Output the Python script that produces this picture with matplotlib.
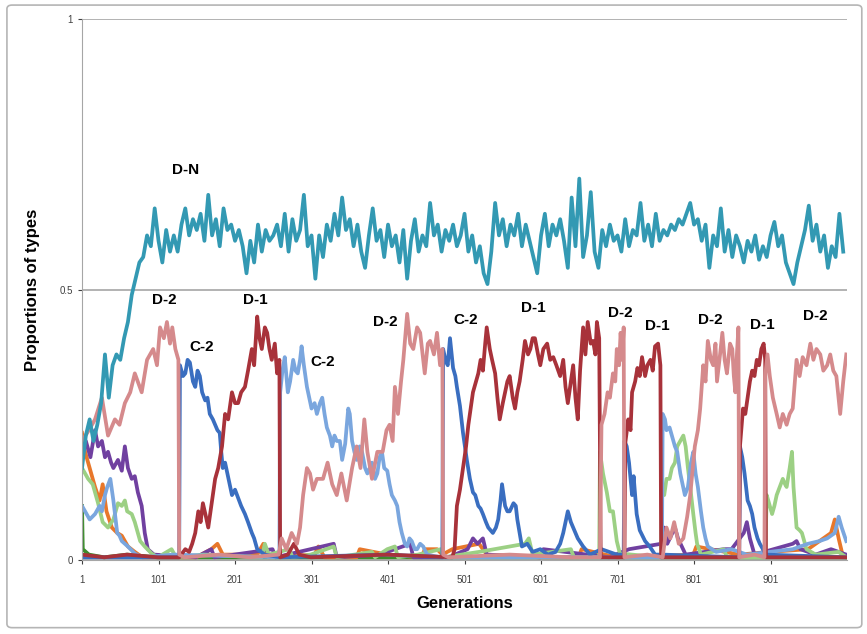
import matplotlib
matplotlib.use("Agg")
import matplotlib.pyplot as plt
from matplotlib.patches import FancyBboxPatch
import numpy as np

plt.rcParams['font.family'] = ['Liberation Sans', 'DejaVu Sans']

# D-N, sampled every 5 generations
dn_gen = np.arange(1, 1000, 5)
dn_val = [0.17, 0.23, 0.26, 0.22, 0.25, 0.29, 0.38, 0.30, 0.36, 0.38,
          0.37, 0.41, 0.44, 0.49, 0.52, 0.55, 0.56, 0.60, 0.58, 0.65,
          0.59, 0.55, 0.61, 0.57, 0.60, 0.57, 0.62, 0.65, 0.60, 0.63,
          0.61, 0.64, 0.59, 0.675, 0.60, 0.63, 0.58, 0.65, 0.61, 0.62,
          0.59, 0.61, 0.58, 0.53, 0.59, 0.55, 0.62, 0.57, 0.61, 0.59,
          0.60, 0.62, 0.58, 0.64, 0.57, 0.63, 0.59, 0.61, 0.675, 0.58,
          0.60, 0.52, 0.60, 0.56, 0.62, 0.59, 0.64, 0.60, 0.67, 0.61,
          0.63, 0.58, 0.62, 0.57, 0.54, 0.60, 0.65, 0.59, 0.61, 0.56,
          0.62, 0.58, 0.60, 0.55, 0.61, 0.52, 0.59, 0.63, 0.57, 0.60,
          0.58, 0.66, 0.60, 0.62, 0.57, 0.61, 0.59, 0.62, 0.58, 0.60,
          0.64, 0.57, 0.60, 0.55, 0.58, 0.53, 0.51, 0.57, 0.66, 0.60,
          0.63, 0.58, 0.62, 0.60, 0.64, 0.58, 0.62, 0.59, 0.56, 0.53,
          0.60, 0.64, 0.58, 0.62, 0.60, 0.63, 0.59, 0.54, 0.67, 0.58,
          0.705, 0.56, 0.60, 0.68, 0.57, 0.54, 0.61, 0.58, 0.62, 0.59,
          0.60, 0.57, 0.63, 0.58, 0.61, 0.60, 0.66, 0.59, 0.62, 0.58,
          0.64, 0.59, 0.61, 0.60, 0.62, 0.61, 0.63, 0.62, 0.64, 0.66,
          0.62, 0.63, 0.59, 0.62, 0.54, 0.60, 0.58, 0.65, 0.57, 0.61,
          0.56, 0.60, 0.58, 0.55, 0.59, 0.57, 0.60, 0.555, 0.58, 0.56,
          0.60, 0.625, 0.58, 0.60, 0.55, 0.53, 0.51, 0.55, 0.58, 0.61,
          0.655, 0.59, 0.62, 0.57, 0.60, 0.54, 0.58, 0.56, 0.64, 0.57]

d2_gen = [1, 10, 18, 27, 35, 44, 50, 57, 64, 70, 79, 86, 94, 99, 103, 108, 112, 116, 119, 123, 127,
          128, 135, 180, 220, 258, 262, 268, 275, 282, 286, 290, 295, 299, 303, 308, 316, 322, 328,
          334, 340, 347, 354, 360, 365, 370, 374, 380, 387, 394, 399, 403, 407, 410, 414, 418, 421,
          426, 430, 434, 439, 443, 447, 449, 453, 456, 461, 465, 469, 472, 473, 480, 560, 640, 678,
          680, 684, 688, 691, 695, 698, 700, 703, 705, 707, 709, 710, 740, 760, 765, 770, 775, 781,
          787, 792, 796, 802, 806, 809, 813, 816, 819, 823, 826, 829, 831, 835, 838, 841, 844, 848,
          851, 853, 855, 857, 859, 860, 880, 893, 894, 897, 900, 904, 909, 913, 917, 922, 926, 930,
          935, 939, 943, 948, 953, 957, 961, 966, 970, 975, 979, 983, 987, 992, 996, 1000]
d2_val = [0.22, 0.24, 0.26, 0.30, 0.23, 0.26, 0.25, 0.29, 0.31, 0.345, 0.31, 0.37, 0.39, 0.36, 0.43,
          0.41, 0.44, 0.40, 0.43, 0.39, 0.37,
          0.01, 0.005, 0.01, 0.005, 0.01, 0.04, 0.02, 0.05, 0.03, 0.06, 0.12, 0.17, 0.16, 0.13, 0.15,
          0.15, 0.18, 0.14, 0.12, 0.16, 0.11, 0.17, 0.21, 0.17, 0.26, 0.20, 0.15, 0.20, 0.20, 0.24,
          0.25, 0.22, 0.32, 0.27, 0.33, 0.37, 0.455, 0.40, 0.39, 0.43, 0.42, 0.37, 0.345, 0.40,
          0.405, 0.38, 0.42, 0.36, 0.39, 0.01, 0.005, 0.01, 0.005, 0.005,
          0.25, 0.27, 0.31, 0.30, 0.345, 0.33, 0.39, 0.36, 0.42, 0.37, 0.43, 0.005, 0.01, 0.005,
          0.06, 0.04, 0.07, 0.03, 0.04, 0.08, 0.12, 0.21, 0.24, 0.28, 0.36, 0.33, 0.405, 0.37, 0.36,
          0.40, 0.33, 0.38, 0.42, 0.37, 0.345, 0.40, 0.39, 0.34, 0.31, 0.38, 0.43, 0.005, 0.01,
          0.005, 0.34, 0.38, 0.34, 0.30, 0.27, 0.245, 0.27, 0.25, 0.27, 0.28, 0.37, 0.34, 0.375,
          0.36, 0.40, 0.37, 0.39, 0.38, 0.35, 0.36, 0.38, 0.35, 0.34, 0.27, 0.33, 0.38]

d1_gen = [1, 30, 60, 100, 128, 136, 141, 145, 149, 153, 156, 159, 163, 166, 170, 175, 179, 184, 188,
          192, 197, 201, 205, 209, 214, 218, 223, 226, 230, 233, 236, 240, 243, 246, 249, 253, 256,
          259, 260, 270, 278, 285, 300, 400, 485, 488, 491, 495, 499, 503, 506, 509, 512, 516, 519,
          522, 525, 528, 530, 534, 537, 541, 544, 547, 551, 554, 557, 560, 564, 567, 570, 573, 577,
          580, 584, 587, 590, 593, 597, 600, 604, 609, 613, 617, 621, 626, 630, 633, 636, 640, 643,
          646, 649, 652, 656, 659, 662, 666, 669, 672, 674, 677, 679, 700, 710, 711, 715, 718, 720,
          724, 727, 730, 733, 737, 740, 744, 747, 750, 754, 757, 758, 780, 820, 860, 861, 865, 868,
          871, 874, 877, 880, 883, 886, 889, 892, 894, 895, 950, 1000]
d1_val = [0.01, 0.005, 0.01, 0.005, 0.005, 0.02, 0.015, 0.03, 0.05, 0.09, 0.07, 0.105, 0.08, 0.06,
          0.10, 0.15, 0.17, 0.21, 0.27, 0.26, 0.31, 0.29, 0.29, 0.31, 0.32, 0.35, 0.39, 0.36, 0.45,
          0.41, 0.39, 0.43, 0.42, 0.39, 0.37, 0.40, 0.345, 0.37, 0.005, 0.01, 0.03, 0.01, 0.005,
          0.01, 0.005, 0.02, 0.10, 0.13, 0.17, 0.21, 0.25, 0.28, 0.31, 0.33, 0.345, 0.37, 0.35,
          0.40, 0.43, 0.39, 0.37, 0.345, 0.30, 0.26, 0.29, 0.31, 0.33, 0.34, 0.30, 0.28, 0.31, 0.33,
          0.37, 0.405, 0.38, 0.39, 0.41, 0.41, 0.38, 0.36, 0.39, 0.40, 0.37, 0.375, 0.36, 0.34,
          0.37, 0.32, 0.29, 0.33, 0.36, 0.30, 0.26, 0.35, 0.43, 0.38, 0.44, 0.40, 0.405, 0.38, 0.44,
          0.41, 0.005, 0.005, 0.005, 0.215, 0.26, 0.24, 0.31, 0.33, 0.355, 0.34, 0.375, 0.34, 0.36,
          0.37, 0.35, 0.395, 0.40, 0.36, 0.005, 0.005, 0.005, 0.005, 0.21, 0.28, 0.27, 0.30, 0.33,
          0.35, 0.34, 0.37, 0.36, 0.39, 0.40, 0.37, 0.005, 0.005, 0.005]

c2_gen = [1, 128, 129, 133, 136, 139, 142, 146, 149, 152, 155, 158, 162, 165, 168, 172, 175, 178,
          181, 183, 185, 188, 191, 194, 197, 201, 205, 209, 214, 218, 223, 226, 230, 240, 260, 400,
          472, 473, 476, 479, 482, 486, 489, 491, 495, 499, 504, 508, 512, 515, 519, 522, 525, 529,
          532, 538, 542, 545, 548, 550, 554, 557, 560, 565, 568, 570, 573, 576, 583, 590, 600, 610,
          620, 626, 630, 633, 636, 640, 643, 649, 656, 665, 680, 690, 700, 709, 710, 713, 716, 718,
          720, 722, 726, 730, 737, 743, 750, 760, 860, 861, 864, 867, 871, 874, 877, 880, 884, 887,
          895, 1000]
c2_val = [0.005, 0.005, 0.36, 0.34, 0.345, 0.37, 0.365, 0.33, 0.32, 0.35, 0.34, 0.31, 0.295, 0.30,
          0.27, 0.26, 0.25, 0.24, 0.235, 0.20, 0.17, 0.18, 0.16, 0.14, 0.12, 0.13, 0.115, 0.10,
          0.085, 0.07, 0.05, 0.04, 0.02, 0.01, 0.005, 0.01,
          0.005, 0.39, 0.37, 0.36, 0.41, 0.355, 0.34, 0.32, 0.285, 0.235, 0.185, 0.15, 0.125, 0.12,
          0.10, 0.095, 0.085, 0.07, 0.06, 0.05, 0.06, 0.075, 0.11, 0.14, 0.10, 0.09, 0.09, 0.105,
          0.10, 0.075, 0.05, 0.025, 0.03, 0.015, 0.02, 0.01, 0.015, 0.03, 0.05, 0.07, 0.09, 0.07,
          0.06, 0.04, 0.025, 0.01, 0.02, 0.015, 0.01, 0.01, 0.22, 0.21, 0.18, 0.15, 0.12, 0.155,
          0.085, 0.055, 0.035, 0.025, 0.01, 0.01, 0.005, 0.21, 0.19, 0.16, 0.11, 0.10, 0.085, 0.06,
          0.04, 0.03, 0.01, 0.005]

lb_gen = [1, 5, 11, 18, 24, 27, 31, 34, 38, 42, 47, 50, 53, 61, 70, 80, 120, 259, 260, 263, 266,
          270, 273, 277, 280, 283, 286, 288, 291, 295, 298, 301, 305, 308, 312, 315, 318, 321, 325,
          328, 331, 334, 338, 341, 345, 349, 351, 354, 357, 360, 364, 367, 371, 374, 377, 380, 384,
          387, 390, 393, 396, 400, 403, 406, 410, 413, 416, 419, 423, 426, 429, 432, 436, 439, 443,
          447, 452, 470, 759, 760, 763, 765, 769, 772, 776, 779, 783, 786, 789, 793, 797, 800, 803,
          806, 810, 813, 816, 819, 830, 850, 870, 900, 930, 950, 965, 975, 985, 990, 994, 1000]
lb_val = [0.10, 0.09, 0.075, 0.085, 0.10, 0.09, 0.12, 0.135, 0.15, 0.11, 0.05, 0.045, 0.035, 0.025,
          0.012, 0.005, 0.01, 0.005, 0.31, 0.35, 0.375, 0.31, 0.33, 0.37, 0.35, 0.345, 0.37, 0.395,
          0.36, 0.32, 0.30, 0.28, 0.29, 0.27, 0.29, 0.30, 0.27, 0.245, 0.23, 0.21, 0.23, 0.22, 0.22,
          0.185, 0.215, 0.28, 0.27, 0.22, 0.20, 0.185, 0.21, 0.20, 0.17, 0.16, 0.17, 0.18, 0.15,
          0.16, 0.19, 0.20, 0.17, 0.165, 0.14, 0.12, 0.11, 0.10, 0.07, 0.05, 0.03, 0.025, 0.04,
          0.035, 0.02, 0.02, 0.03, 0.025, 0.01, 0.005, 0.005, 0.27, 0.26, 0.24, 0.245, 0.23, 0.21,
          0.20, 0.16, 0.14, 0.12, 0.135, 0.18, 0.20, 0.16, 0.135, 0.09, 0.06, 0.04, 0.025, 0.015,
          0.02, 0.01, 0.015, 0.02, 0.03, 0.035, 0.04, 0.05, 0.08, 0.06, 0.035]

gr_gen = [1, 3, 9, 15, 22, 28, 35, 42, 48, 53, 57, 60, 66, 70, 77, 83, 92, 100, 118, 124, 160, 236,
          240, 245, 272, 276, 300, 330, 334, 380, 384, 400, 410, 414, 440, 470, 474, 520, 580, 585,
          590, 640, 644, 677, 678, 682, 687, 691, 695, 700, 704, 758, 759, 762, 765, 769, 772, 776,
          779, 783, 787, 790, 793, 796, 800, 803, 805, 810, 840, 844, 894, 896, 900, 903, 906, 909,
          913, 917, 920, 922, 926, 929, 931, 935, 939, 942, 948, 960, 990, 1000]
gr_val = [0.17, 0.165, 0.15, 0.14, 0.105, 0.07, 0.06, 0.075, 0.105, 0.10, 0.11, 0.09, 0.085, 0.07,
          0.035, 0.025, 0.012, 0.005, 0.02, 0.005, 0.01, 0.005, 0.03, 0.01, 0.02, 0.005, 0.01, 0.025,
          0.005, 0.015, 0.005, 0.02, 0.025, 0.005, 0.01, 0.02, 0.005, 0.015, 0.03, 0.04, 0.01, 0.02,
          0.005, 0.005, 0.20, 0.16, 0.125, 0.09, 0.09, 0.035, 0.012, 0.005, 0.135, 0.12, 0.15, 0.15,
          0.17, 0.18, 0.21, 0.22, 0.23, 0.21, 0.17, 0.135, 0.085, 0.05, 0.03, 0.01, 0.02, 0.005,
          0.005, 0.12, 0.10, 0.085, 0.10, 0.12, 0.135, 0.15, 0.14, 0.135, 0.17, 0.20, 0.135, 0.06,
          0.055, 0.05, 0.02, 0.01, 0.015, 0.005]

pu_gen = [1, 6, 12, 18, 22, 27, 31, 35, 39, 42, 48, 53, 57, 61, 66, 70, 74, 79, 83, 87, 95, 150,
          170, 174, 200, 250, 254, 330, 334, 390, 430, 434, 480, 505, 512, 518, 525, 530, 600, 604,
          690, 716, 758, 762, 766, 776, 780, 790, 840, 850, 866, 870, 874, 880, 930, 935, 940, 960,
          980, 1000]
pu_val = [0.20, 0.22, 0.19, 0.24, 0.21, 0.22, 0.19, 0.20, 0.18, 0.17, 0.185, 0.165, 0.21, 0.17,
          0.15, 0.155, 0.125, 0.10, 0.05, 0.02, 0.01, 0.005, 0.02, 0.005, 0.01, 0.02, 0.005, 0.03,
          0.005, 0.01, 0.03, 0.005, 0.005, 0.02, 0.04, 0.03, 0.04, 0.01, 0.005, 0.02, 0.005, 0.02,
          0.03, 0.06, 0.03, 0.06, 0.04, 0.01, 0.02, 0.02, 0.05, 0.07, 0.04, 0.01, 0.03, 0.035, 0.02,
          0.01, 0.02, 0.01]

or_gen = [1, 5, 11, 18, 24, 28, 33, 40, 47, 53, 61, 70, 80, 150, 170, 178, 185, 230, 238, 245, 305,
          310, 318, 360, 364, 400, 445, 449, 465, 472, 485, 520, 530, 600, 650, 654, 700, 800, 804,
          860, 900, 950, 960, 970, 980, 985, 990, 995, 1000]
or_val = [0.235, 0.20, 0.17, 0.135, 0.11, 0.14, 0.09, 0.06, 0.05, 0.045, 0.025, 0.015, 0.005,
          0.005, 0.02, 0.03, 0.01, 0.01, 0.03, 0.005, 0.01, 0.025, 0.005, 0.005, 0.02, 0.01, 0.005,
          0.02, 0.02, 0.01, 0.02, 0.03, 0.01, 0.005, 0.005, 0.02, 0.005, 0.01, 0.025, 0.01, 0.015,
          0.02, 0.03, 0.04, 0.05, 0.075, 0.04, 0.01, 0.005]

dg_gen = [1, 2, 10, 30, 60, 100, 1000]
dg_val = [0.10, 0.02, 0.01, 0.005, 0.01, 0.005, 0.005]

labels = ["D-N", "D-2", "C-2", "D-1", "C-2", "D-2", "C-2", "D-1", "D-2", "D-1", "D-2", "D-1", "D-2"]
label_gen = [136, 109, 158, 228, 316, 398, 503, 591, 704, 753, 822, 890, 959]
label_val = [0.72, 0.48, 0.394, 0.48, 0.366, 0.44, 0.444, 0.466, 0.457, 0.433, 0.444, 0.434, 0.451]

xticks = [1, 101, 201, 301, 401, 501, 601, 701, 801, 901]

fig = plt.figure(figsize=(8.67, 6.34), dpi=100)
fig.patches.append(FancyBboxPatch((0.008, 0.01), 0.986, 0.982,
                                  boxstyle="round,pad=0,rounding_size=0.006",
                                  transform=fig.transFigure, fc="none", ec="#b5b5b5", lw=1.2))
ax = fig.add_axes([0.0946, 0.1167, 0.8824, 0.8533])

lw = 2.7
ax.plot(dg_gen, dg_val, color="#3c8c2c", lw=lw)
ax.plot(or_gen, or_val, color="#e8772a", lw=lw)
ax.plot(pu_gen, pu_val, color="#7040a0", lw=lw)
ax.plot(gr_gen, gr_val, color="#9cd084", lw=lw)
ax.plot(lb_gen, lb_val, color="#7aa6de", lw=lw)
ax.plot(c2_gen, c2_val, color="#3a6ec0", lw=lw)
ax.plot(d1_gen, d1_val, color="#a8323a", lw=lw)
ax.plot(d2_gen, d2_val, color="#d58a8c", lw=lw)
ax.plot(dn_gen, dn_val, color="#3399b3", lw=lw)

for t, g, v in zip(labels, label_gen, label_val):
    ax.text(g, v, t, fontsize=11, fontweight="bold", ha="center", va="center",
            bbox=dict(fc="white", ec="none", pad=1, alpha=0.6))

ax.set_xlim(1, 1001)
ax.set_ylim(0, 1)
ax.set_xticks(xticks)
ax.set_xticklabels([str(x) for x in xticks])
ax.set_yticks([0, 0.5, 1])
ax.set_yticklabels(["0", "0.5", "1"])
ax.tick_params(labelsize=7, colors="#404040", length=3, width=0.8)
ax.tick_params(axis="x", pad=8)
ax.grid(axis="y", color="#a6a6a6", lw=1.2)
ax.set_axisbelow(True)
for s in ["top", "right"]:
    ax.spines[s].set_visible(False)
ax.spines["left"].set_color("#a6a6a6")
ax.spines["bottom"].set_color("#a6a6a6")

ax.set_xlabel("Generations", fontsize=12, fontweight="bold", labelpad=8)
ax.set_ylabel("Proportions of types", fontsize=12, fontweight="bold", labelpad=14)

fig.savefig("out.png", dpi=100)
